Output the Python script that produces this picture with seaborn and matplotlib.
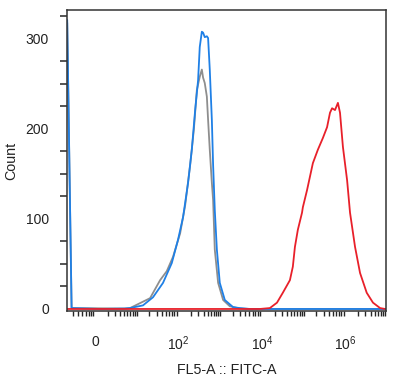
import numpy as np
import pandas as pd
import matplotlib
matplotlib.use("Agg")
import matplotlib.pyplot as plt
import seaborn as sns

# x positions in decade units of the display scale (0 -> "0", 2 -> 10^2, ...)
gray_x = [-0.665, -0.56, 0.70, 0.84, 1.32, 1.56, 1.72, 1.87, 2.04, 2.16, 2.28, 2.37,
          2.44, 2.51, 2.56, 2.59, 2.63, 2.68, 2.71, 2.75, 2.80, 2.83, 2.87, 2.95,
          3.07, 3.23, 3.47, 3.71, 6.97]
gray_y = [318, 1, 0.5, 1, 12, 32, 42, 58, 84, 115, 160, 200,
          243, 258, 266, 257, 251, 236, 210, 177, 140, 121, 66, 29,
          10, 3, 0.5, 0, 0]

blue_x = [-0.665, -0.56, 0.12, 0.72, 0.84, 1.15, 1.39, 1.63, 1.84, 1.99, 2.11, 2.23,
          2.32, 2.40, 2.47, 2.51, 2.56, 2.59, 2.63, 2.68, 2.71, 2.75, 2.80, 2.83,
          2.87, 2.92, 2.99, 3.11, 3.31, 3.47, 3.71, 6.97]
blue_y = [321, 1, 0, 0.5, 1, 4, 13, 29, 51, 77, 102, 140,
          177, 221, 254, 291, 308, 307, 302, 303, 301, 266, 210, 160,
          110, 66, 29, 10, 2, 1, 0, 0]

red_x = [-0.665, 3.95, 4.19, 4.36, 4.50, 4.67, 4.74, 4.79, 4.86, 4.96, 4.98, 5.08,
         5.15, 5.22, 5.34, 5.46, 5.56, 5.63, 5.68, 5.75, 5.82, 5.87, 5.94, 6.04,
         6.11, 6.23, 6.35, 6.51, 6.66, 6.83, 6.95]
red_y = [0, 0, 1, 7, 18, 32, 47, 69, 88, 107, 113, 132,
         147, 162, 177, 190, 202, 218, 223, 221, 229, 218, 180, 143,
         107, 69, 40, 18, 7, 1, 0]

x_tick_pos = [0, 2, 4, 6]
x_tick_labels = ["0", "$10^{2}$", "$10^{4}$", "$10^{6}$"]
y_ticks = [0, 100, 200, 300]

sns.set_style("white")
plt.rcParams["font.family"] = ["Liberation Sans", "DejaVu Sans"]
plt.rcParams["mathtext.default"] = "regular"

fig = plt.figure(figsize=(3.93, 3.76), dpi=100)
ax = fig.add_axes([0.1705, 0.173, 0.8115, 0.80])

series = [(gray_x, gray_y, "#8e8e8e"), (blue_x, blue_y, "#1f80e6"), (red_x, red_y, "#e8202a")]
for xs, ys, col in series:
    df = pd.DataFrame({"x": xs, "y": ys})
    sns.lineplot(data=df, x="x", y="y", color=col, linewidth=1.3,
                 estimator=None, sort=False, ax=ax)

ax.set_xlim(-0.67, 6.97)
ax.set_ylim(-2.2, 332)

ax.set_xticks(x_tick_pos)
ax.set_xticklabels(x_tick_labels)
minor_x = []
for k in range(-1, 7):
    for m in range(1, 10):
        p = k + np.log10(m)
        if -0.67 <= p <= 6.97 and p not in x_tick_pos:
            minor_x.append(p)
ax.set_xticks(minor_x, minor=True)

ax.set_yticks(y_ticks)
ax.set_yticks(np.arange(0, 333, 25), minor=True)

ax.tick_params(axis="both", which="major", direction="out", color="black",
               labelsize=10, labelcolor="#222222", width=1.3)
ax.tick_params(axis="y", which="major", length=9, pad=4)
ax.tick_params(axis="y", which="minor", length=5, width=1.1, direction="out", left=True)
ax.tick_params(axis="x", which="major", length=7, pad=10)
ax.tick_params(axis="x", which="minor", length=3.5, width=1.0, direction="out", bottom=True)

for s in ax.spines.values():
    s.set_visible(True)
    s.set_color("#333333")
    s.set_linewidth(1.1)

ax.set_xlabel("FL5-A :: FITC-A", fontsize=10.3, color="#222222", labelpad=7)
ax.set_ylabel("Count", fontsize=10.3, color="#222222")
ax.yaxis.set_label_coords(-0.154, 0.5)

fig.savefig("out.png", dpi=100)
